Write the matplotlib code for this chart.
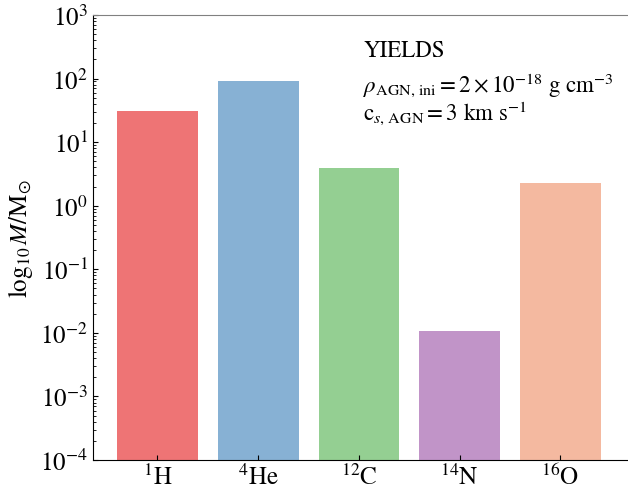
import matplotlib
matplotlib.use("Agg")
import matplotlib.pyplot as plt

# ==========================================================
# Data
# ==========================================================

ISOTOPES = [r"$^{1}$H", r"$^{4}$He", r"$^{12}$C", r"$^{14}$N", r"$^{16}$O"]

YIELDS = [31.0, 91.0, 3.9, 0.0107, 2.28]

COLORS = ["#ee7475", "#87b1d4", "#94cf92", "#c194c8", "#f4b9a0"]

# ==========================================================
# Plot
# ==========================================================

plt.rcParams["font.family"] = ["STIXGeneral", "Liberation Serif", "DejaVu Serif"]
plt.rcParams["mathtext.fontset"] = "stix"

fig = plt.figure(figsize=(6.28, 4.89), dpi=100)

ax = fig.add_axes([93 / 628, 1 - 461 / 489, 1 - 93 / 628, 445 / 489])

ax.bar(range(len(YIELDS)), YIELDS, width=0.8, color=COLORS)

ax.set_yscale("log")
ax.set_ylim(1e-4, 1e3)
ax.set_xlim(-0.64, 4.67)

ax.set_xticks(range(len(ISOTOPES)))
ax.set_xticklabels(ISOTOPES, fontsize=18)

ax.tick_params(axis="both", direction="in", labelsize=18)
ax.tick_params(axis="y", which="minor", direction="in")
ax.tick_params(axis="x", which="minor", bottom=False)

ax.spines["right"].set_visible(False)
ax.spines["top"].set_color("gray")

ax.set_ylabel(r"$\log_{10}M/\mathrm{M}_{\odot}$", fontsize=18)

ax.text(0.505, 0.908, "YIELDS", transform=ax.transAxes, fontsize=16.5,
        va="baseline")
ax.text(0.505, 0.829,
        r"$\rho_{\rm AGN,\,ini} = 2\times10^{-18}$ g cm$^{-3}$",
        transform=ax.transAxes, fontsize=16.5, va="baseline")
ax.text(0.505, 0.766,
        r"c$_{s,\,\rm AGN} = 3$ km s$^{-1}$",
        transform=ax.transAxes, fontsize=16.5, va="baseline")

fig.savefig("out.png", dpi=100)
